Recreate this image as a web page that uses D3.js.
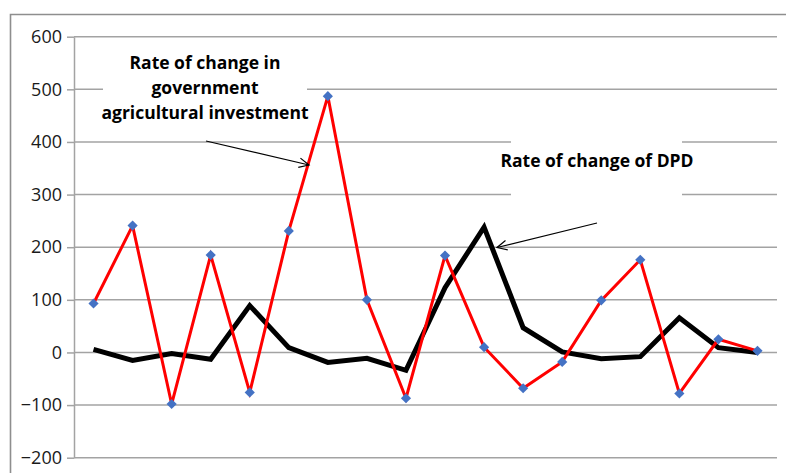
<!DOCTYPE html>
<html>
<head>
<meta charset="utf-8">
<script src="https://cdn.jsdelivr.net/npm/d3@7"></script>
<style>
  html, body { margin: 0; padding: 0; background: #fff; }
  svg { display: block; }
</style>
</head>
<body>
<svg id="chart" width="786" height="473"></svg>
<script>
// ---- Data ----
const categories = ["1","2","3","4","5","6","7","8","9","10","11","12","13","14","15","16","17","18"];
const investmentChange = [93, 241, -98, 185, -76, 231, 487, 100, -87, 184, 10, -68, -18, 99, 176, -78, 25, 3];
const dpdChange = [6, -15, -2, -13, 89, 9, -19, -11, -34, 123, 238, 47, 1, -12, -8, 66, 9, 0];
const yTicks = [-200, -100, 0, 100, 200, 300, 400, 500, 600];
const labelInvestment = ["Rate of change in", "government", "agricultural investment"];
const labelDPD = "Rate of change of DPD";

// ---- Layout ----
const svg = d3.select("#chart");
const plot = { left: 74, right: 777, top: 36.7, bottom: 457.7 };

const x = d3.scaleBand().domain(categories).range([plot.left, plot.right]);
const y = d3.scaleLinear().domain([-200, 600]).range([plot.bottom, plot.top]);
const cx = (d, i) => x(categories[i]) + x.bandwidth() / 2;

const gridColor = "#a3a3a3";
const font = "'Open Sans', 'Liberation Sans', sans-serif";

// outer chart border
svg.append("path")
  .attr("d", "M10.5,480 L10.5,14.5 L800,14.5")
  .attr("fill", "none").attr("stroke", "#8e8e8e").attr("stroke-width", 1.6);

// gridlines
svg.append("g").selectAll("line").data(yTicks).join("line")
  .attr("x1", plot.left).attr("x2", plot.right)
  .attr("y1", d => y(d)).attr("y2", d => y(d))
  .attr("stroke", gridColor).attr("stroke-width", 1.5);

// y axis
const yAxis = d3.axisLeft(y).tickValues(yTicks).tickSize(7).tickPadding(5).tickSizeOuter(0);
const ga = svg.append("g").attr("transform", `translate(${plot.left},0)`).call(yAxis);
ga.attr("font-size", null).attr("font-family", null);
ga.select(".domain").attr("stroke", gridColor).attr("stroke-width", 1.5);
ga.selectAll(".tick line").attr("stroke", gridColor).attr("stroke-width", 1.5);
ga.selectAll(".tick text").attr("fill", "#1a1a1a")
  .attr("font-family", font).attr("font-size", 18)
  .style("font-family", font).style("font-size", "18px");

// white boxes behind annotations
svg.append("rect").attr("x", 103).attr("y", 50).attr("width", 204).attr("height", 78).attr("fill", "#fff");
svg.append("rect").attr("x", 511).attr("y", 130).attr("width", 171).attr("height", 75).attr("fill", "#fff");

// lines
const line = d3.line().x(cx).y(d => y(d));

svg.append("path").datum(dpdChange)
  .attr("d", line).attr("fill", "none")
  .attr("stroke", "#000").attr("stroke-width", 5).attr("stroke-linejoin", "miter");

svg.append("path").datum(investmentChange)
  .attr("d", line).attr("fill", "none")
  .attr("stroke", "#ff0000").attr("stroke-width", 3).attr("stroke-linejoin", "miter");

svg.append("g").selectAll("path").data(investmentChange).join("path")
  .attr("d", d3.symbol(d3.symbolSquare, 52))
  .attr("transform", (d, i) => `translate(${cx(d, i)},${y(d)}) rotate(45)`)
  .attr("fill", "#4472c4");

// annotations
const t1 = svg.append("text").attr("text-anchor", "middle")
  .style("font-family", font).style("font-weight", "bold").style("font-size", "17.5px").attr("fill", "#000");
const lineY = [69, 94, 119];
labelInvestment.forEach((s, i) => {
  t1.append("tspan").attr("x", 205).attr("y", lineY[i]).text(s);
});

svg.append("text").attr("x", 597).attr("y", 167).attr("text-anchor", "middle")
  .style("font-family", font).style("font-weight", "bold").style("font-size", "17.5px").attr("fill", "#000")
  .text(labelDPD);

// arrows
function arrow(x1, y1, x2, y2) {
  svg.append("line").attr("x1", x1).attr("y1", y1).attr("x2", x2).attr("y2", y2)
    .attr("stroke", "#000").attr("stroke-width", 1.2);
  const a = Math.atan2(y2 - y1, x2 - x1);
  const L = 11, w = 0.45;
  const p1 = [x2 - L * Math.cos(a - w), y2 - L * Math.sin(a - w)];
  const p2 = [x2 - L * Math.cos(a + w), y2 - L * Math.sin(a + w)];
  svg.append("path").attr("d", `M${p1[0]},${p1[1]} L${x2},${y2} L${p2[0]},${p2[1]}`)
    .attr("fill", "none").attr("stroke", "#000").attr("stroke-width", 1.2);
}
arrow(206, 141, 309, 165);
arrow(597, 223, 497, 247.5);
</script>
</body>
</html>
